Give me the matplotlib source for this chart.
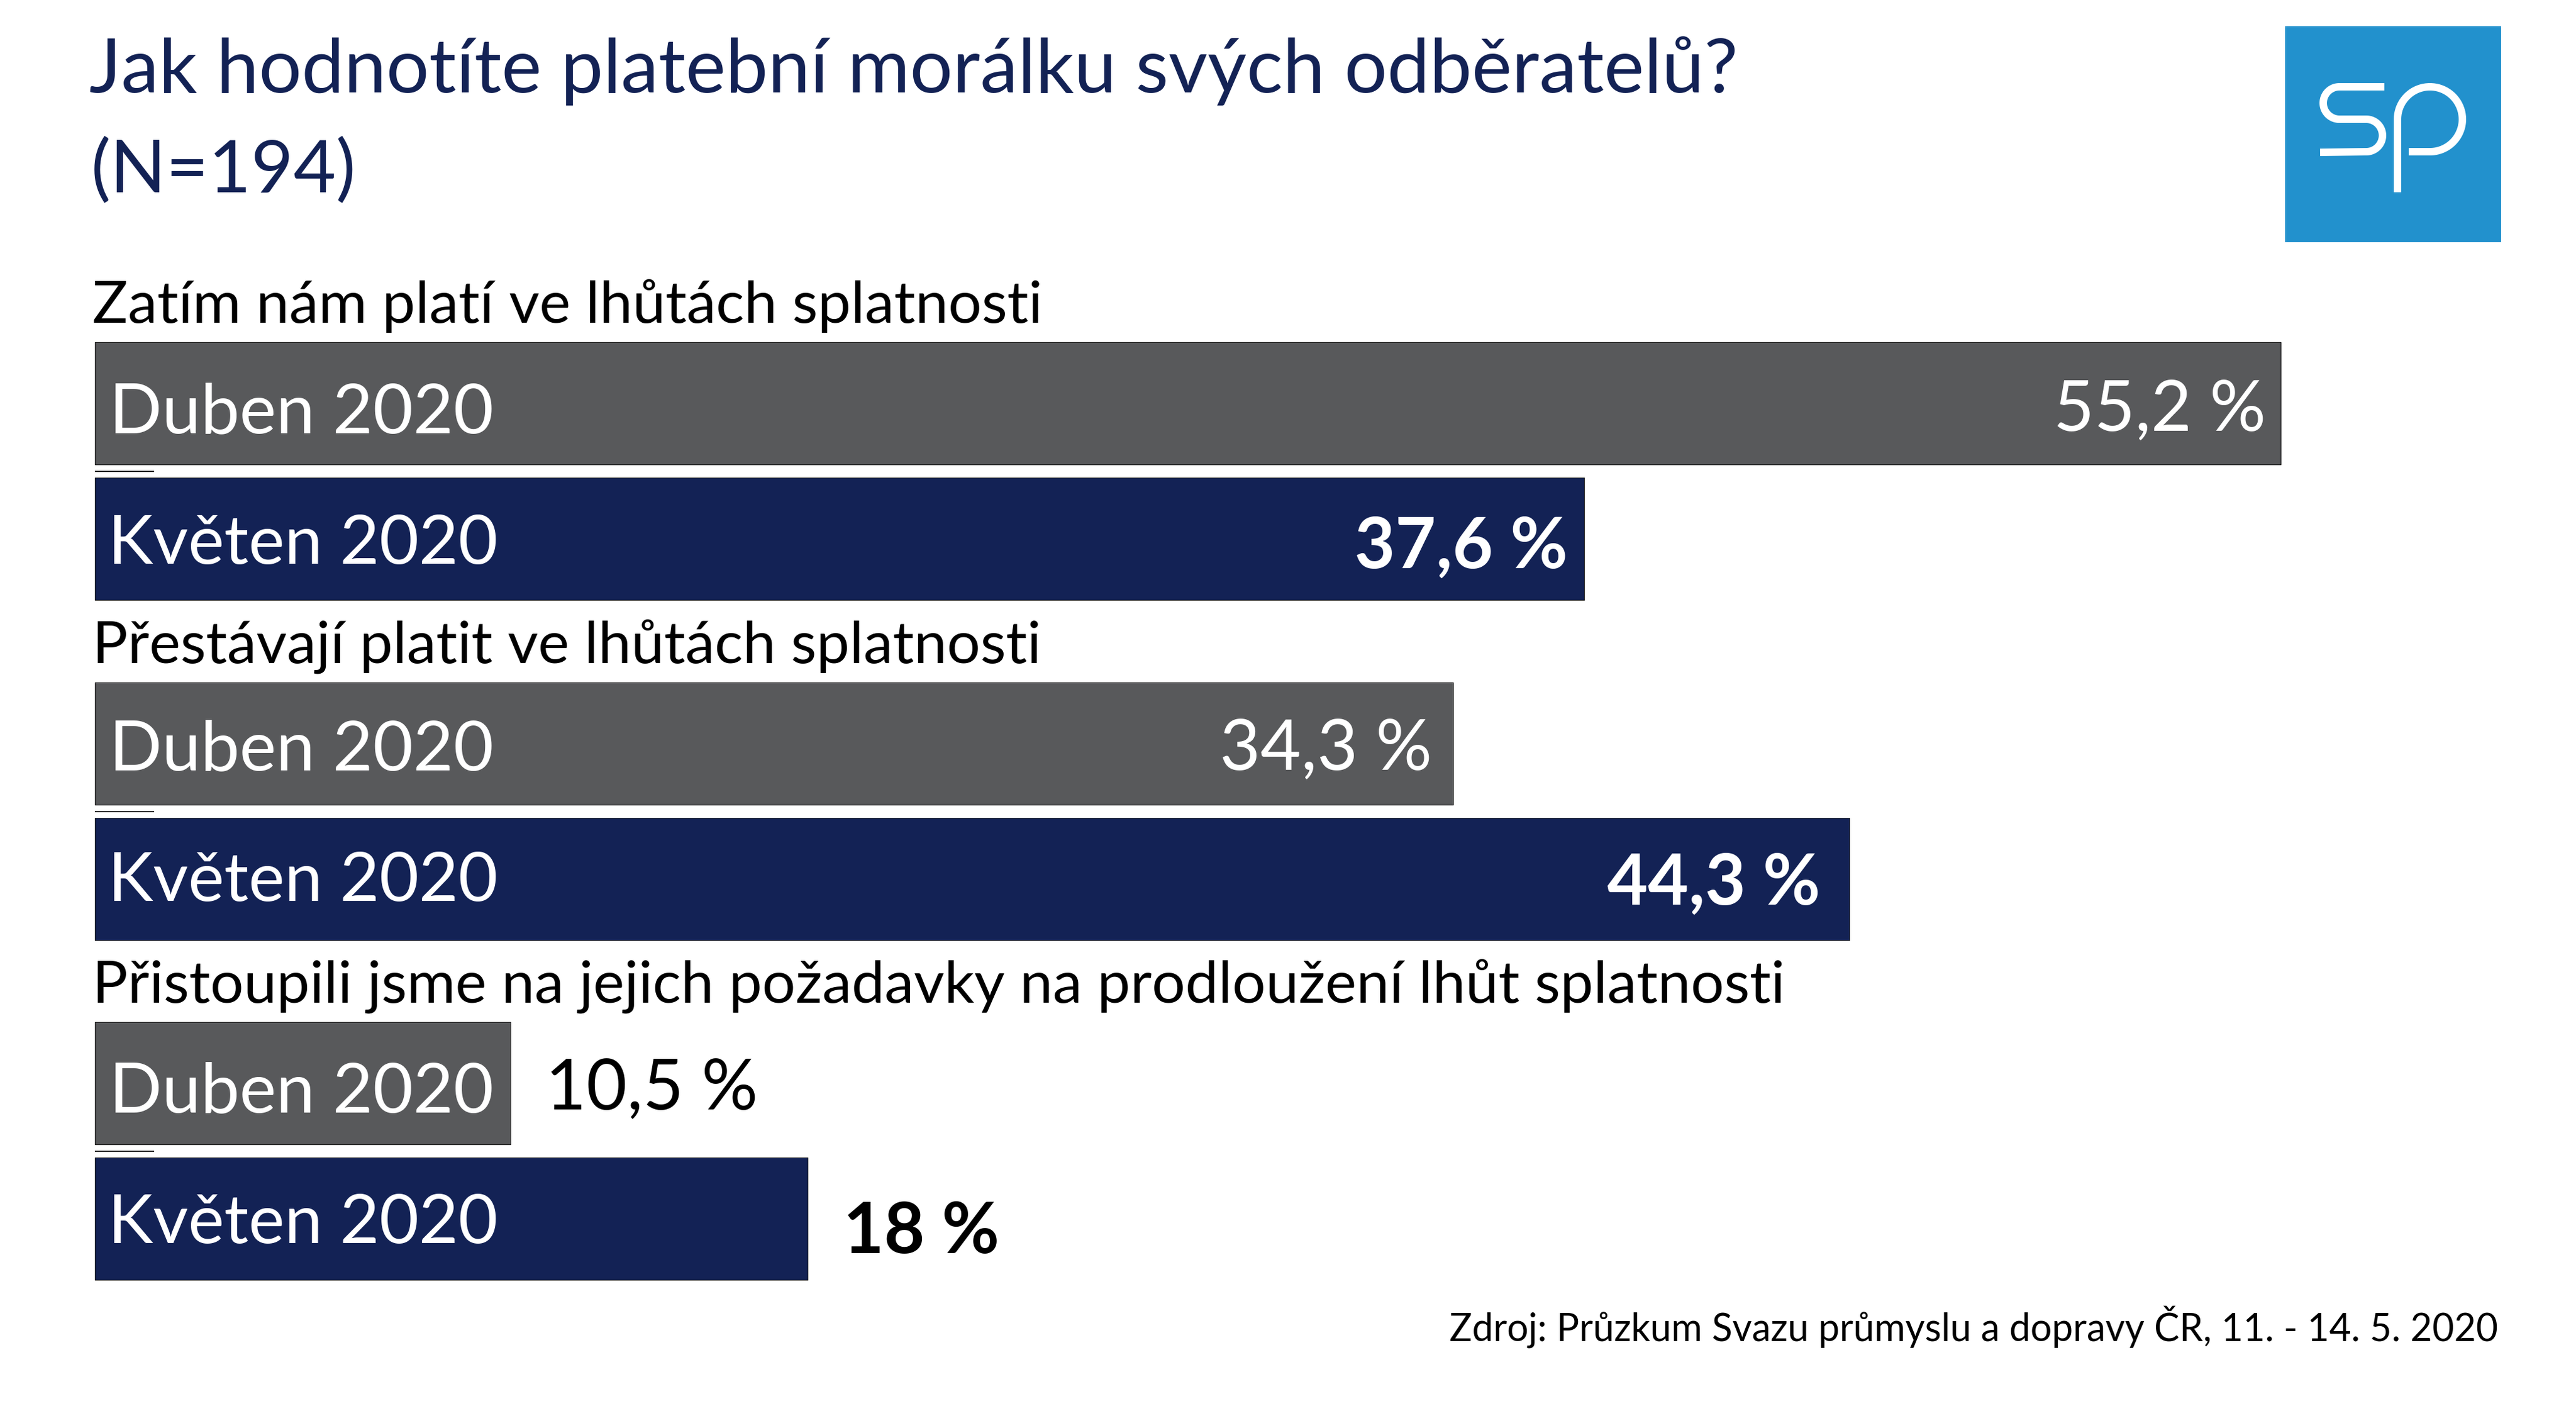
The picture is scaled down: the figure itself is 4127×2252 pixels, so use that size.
import matplotlib
matplotlib.use("Agg")
import matplotlib.pyplot as plt
from matplotlib.patches import PathPatch, Rectangle
from matplotlib.path import Path
import numpy as np

W, H = 4127, 2252
plt.rcParams['font.family'] = ['Lato', 'Noto Sans', 'DejaVu Sans']

title = "Jak hodnotíte platební morálku svých odběratelů?\n(N=194)"
source = "Zdroj: Průzkum Svazu průmyslu a dopravy ČR, 11. - 14. 5. 2020"
groups = ["Zatím nám platí ve lhůtách splatnosti",
          "Přestávají platit ve lhůtách splatnosti",
          "Přistoupili jsme na jejich požadavky na prodloužení lhůt splatnosti"]
periods = ["Duben 2020", "Květen 2020"]
duben = [55.2, 34.3, 10.5]
kveten = [37.6, 44.3, 18]
duben_labels = ["55,2 %", "34,3 %", "10,5 %"]
kveten_labels = ["37,6 %", "44,3 %", "18 %"]

GREY = "#58595b"
NAVY = "#132255"
BLUE = "#2291cd"
PX_PER_PCT = 63.45
X0 = 152

fig = plt.figure(figsize=(W/100, H/100), dpi=100, facecolor="white")
# x axis runs in percent, y axis in picture pixels
ax = fig.add_axes([0, 0, 1, 1])
ax.set_xlim(-X0/PX_PER_PCT, (W-X0)/PX_PER_PCT)
ax.set_ylim(H, 0)
ax.axis("off")

def pct(px):
    return (px-X0)/PX_PER_PCT

# nudges for value labels: (group, series) -> (x gap, y shift) in pixels
nudge = {(0, 0): (24, -3), (0, 1): (26, 0),
         (1, 0): (34, -5), (1, 1): (46, -6),
         (2, 0): (56, -5), (2, 1): (57, 8)}
period_dy = [0, -4, -1]

for i, g in enumerate(groups):
    top = 548 + i*544.5
    ax.text(pct(148), top-31, g, fontsize=68, color="black", va="baseline", ha="left")
    for j, (vals, labs, col, wgt) in enumerate([(duben, duben_labels, GREY, "normal"),
                                                (kveten, kveten_labels, NAVY, "bold")]):
        y = top + j*217
        ax.barh(y, vals[i], height=196, align="edge", left=0, color=col, edgecolor="#222222", linewidth=0.8)
        ax.text(pct(175 if j == 0 else 173), y+(145 if j == 0 else 138)+period_dy[i], periods[j],
                fontsize=80 if j == 0 else 78.5, color="white", va="baseline", ha="left")
        gap, dy = nudge[(i, j)]
        if vals[i] > 20:
            ax.text(vals[i]-gap/PX_PER_PCT, y+145+dy, labs[i], fontsize=81, color="white",
                    ha="right", va="baseline", fontweight=wgt)
        else:
            ax.text(vals[i]+gap/PX_PER_PCT, y+145+dy, labs[i], fontsize=81, color="black",
                    ha="left", va="baseline", fontweight=wgt)
    ax.plot([0, pct(247)], [top+207, top+207], color="#222222", lw=1.4, solid_capstyle="butt")

ax.text(pct(143), 148, title.split("\n")[0], fontsize=87.3, color=NAVY, va="baseline", ha="left")
ax.text(pct(146), 308, title.split("\n")[1], fontsize=84.5, color=NAVY, va="baseline", ha="left")
ax.text(pct(4002), 2148, source, fontsize=43.6, color="black", va="baseline", ha="right")

# logo, drawn in picture pixels
ax2 = fig.add_axes([0, 0, 1, 1])
ax2.set_xlim(0, W)
ax2.set_ylim(H, 0)
ax2.axis("off")
ax2.patch.set_alpha(0)
ax2.add_patch(Rectangle((3661, 42), 346, 346, facecolor=BLUE, edgecolor="none"))

def arc(cx, cy, r, a0, a1, n=40):
    t = np.radians(np.linspace(a0, a1, n))
    return np.c_[cx + r*np.cos(t), cy + r*np.sin(t)]

s = np.vstack([[[3820, 139]], arc(3748, 165, 26, -90, -270), arc(3791, 217, 26, -90, 90), [[3717, 244]]])
p = np.vstack([[[3841, 308]], arc(3893, 191, 52, 180, 360), arc(3893, 191, 52, 0, 90), [[3859, 243]]])
for pts in (s, p):
    ax2.add_patch(PathPatch(Path(pts), facecolor="none", edgecolor="white", lw=8.6, capstyle="butt", joinstyle="round"))

fig.savefig("out.png", dpi=100)
